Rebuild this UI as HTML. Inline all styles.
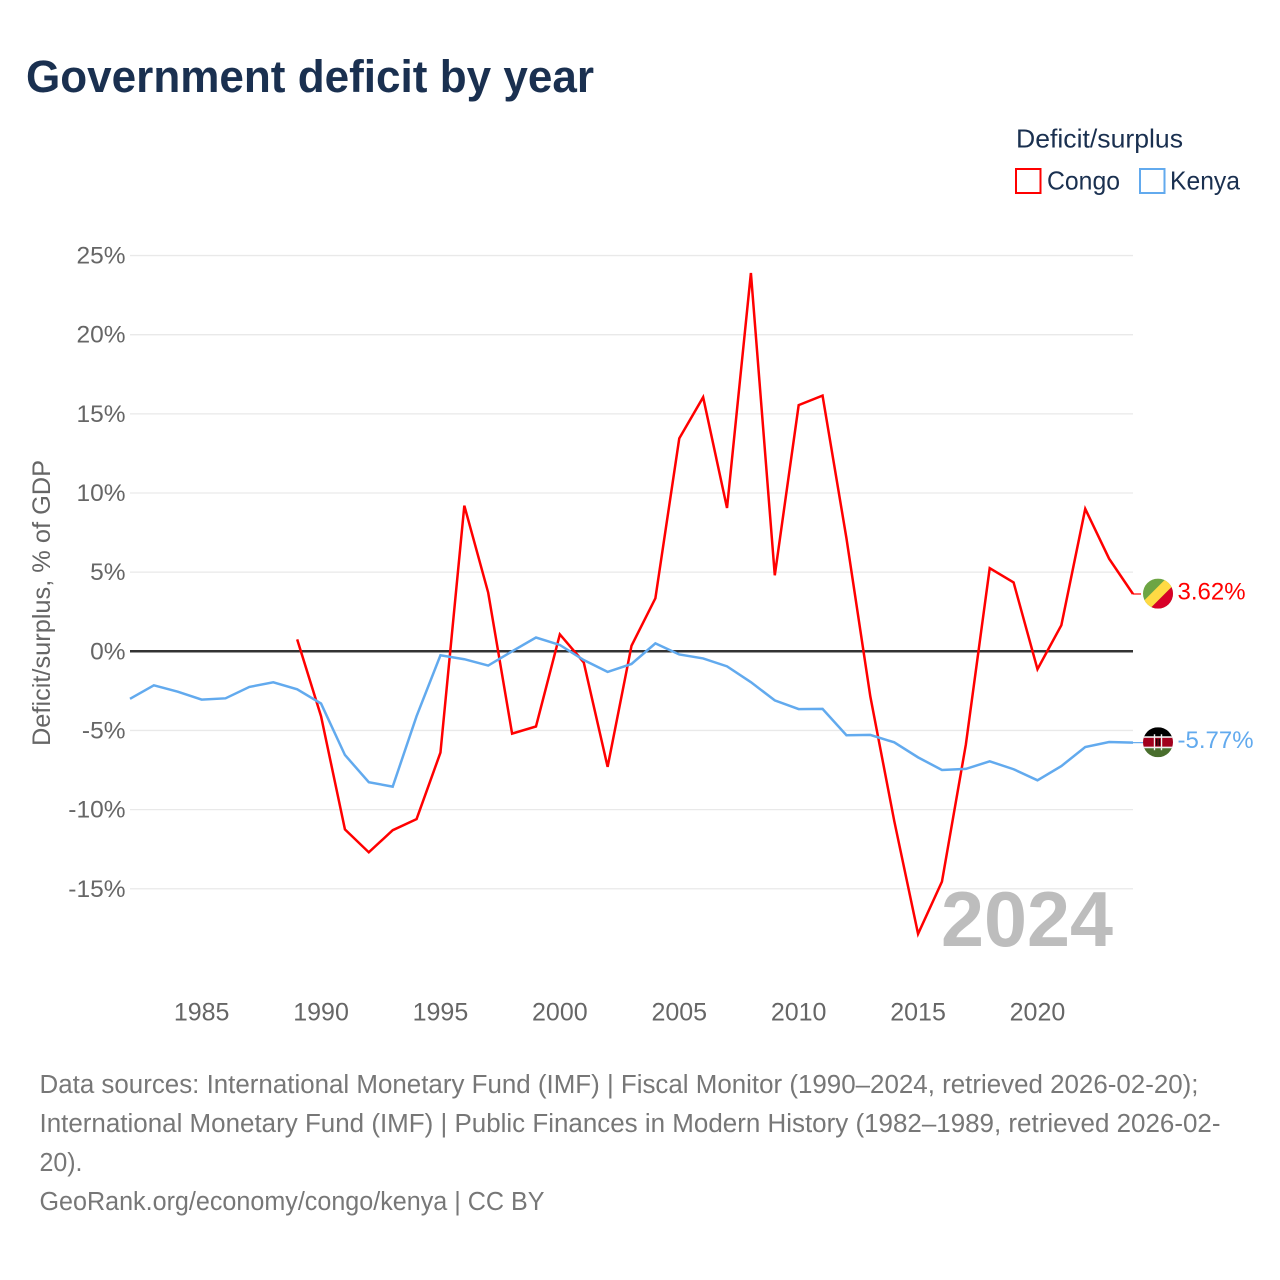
<!DOCTYPE html>
<html lang="en">
<head>
<meta charset="utf-8">
<title>Government deficit by year</title>
<style>
html,body{margin:0;padding:0;background:#fff;}
svg{display:block;font-family:"Liberation Sans",sans-serif;}
</style>
</head>
<body>
<svg id="chart" width="1280" height="1280" viewBox="0 0 1280 1280" xmlns="http://www.w3.org/2000/svg">
  <defs>
    <clipPath id="flag-clip"><circle cx="0" cy="0" r="15"></circle></clipPath>
  </defs>
  <rect width="1280" height="1280" fill="#ffffff"></rect>
  <text x="26" y="92" font-size="45" font-weight="700" fill="#1a3050" textLength="568" lengthAdjust="spacingAndGlyphs">Government deficit by year</text>

  <g>
    <text x="1016" y="147.5" font-size="26" fill="#1a3050" textLength="167" lengthAdjust="spacingAndGlyphs">Deficit/surplus</text>
    <g>
      <rect x="1016" y="169" width="24.5" height="24" fill="none" stroke="#ff0000" stroke-width="2"></rect>
      <text x="1047" y="189.5" font-size="26" fill="#1a3050" textLength="73" lengthAdjust="spacingAndGlyphs">Congo</text>
    </g>
    <g>
      <rect x="1140" y="169" width="24.5" height="24" fill="none" stroke="#62aaee" stroke-width="2"></rect>
      <text x="1170" y="189.5" font-size="26" fill="#1a3050" textLength="70" lengthAdjust="spacingAndGlyphs">Kenya</text>
    </g>
  </g>

  <text transform="translate(50,603) rotate(-90)" text-anchor="middle" font-size="25" fill="#666666" textLength="286" lengthAdjust="spacingAndGlyphs">Deficit/surplus, % of GDP</text>

  <g id="grid"></g>
  <g id="y-labels"></g>
  <g id="x-labels"></g>

  <text x="941" y="946" font-size="78" font-weight="700" fill="#bdbdbd" textLength="172" lengthAdjust="spacingAndGlyphs">2024</text>

  <g id="series"></g>

  <g id="flag-congo">
    <g clip-path="url(#flag-clip)">
      <rect x="-15" y="-15" width="30" height="30" fill="#6da544"></rect>
      <polygon points="15,-15 15,-8 -8,15 -15,15 -15,8 8,-15" fill="#ffda44"></polygon>
      <polygon points="15,-8 15,15 -8,15" fill="#d80027"></polygon>
    </g>
  </g>
  <g id="flag-kenya">
    <g clip-path="url(#flag-clip)">
      <rect x="-15" y="-15" width="30" height="10" fill="#000000"></rect>
      <rect x="-15" y="-5" width="30" height="10" fill="#a2001d"></rect>
      <rect x="-15" y="5" width="30" height="10" fill="#496e2d"></rect>
      <rect x="-15" y="-6" width="30" height="1.6" fill="#f0f0f0"></rect>
      <rect x="-15" y="4.4" width="30" height="1.6" fill="#f0f0f0"></rect>
      <rect x="-4.2" y="-8" width="1.4" height="16" fill="#f0f0f0"></rect>
      <rect x="2.8" y="-8" width="1.4" height="16" fill="#f0f0f0"></rect>
      <rect x="-2.8" y="-4" width="5.6" height="8" fill="#a2001d"></rect>
      <rect x="-1.8" y="-3.5" width="1.2" height="7" fill="#000000"></rect>
      <rect x="0.6" y="-3.5" width="1.2" height="7" fill="#000000"></rect>
    </g>
  </g>

  <g id="end-labels"></g>

  <g font-size="25.5" fill="#777777">
    <text x="39.5" y="1093" textLength="1159" lengthAdjust="spacingAndGlyphs">Data sources: International Monetary Fund (IMF) | Fiscal Monitor (1990–2024, retrieved 2026-02-20);</text>
    <text x="39.5" y="1132" textLength="1181" lengthAdjust="spacingAndGlyphs">International Monetary Fund (IMF) | Public Finances in Modern History (1982–1989, retrieved 2026-02-</text>
    <text x="39.5" y="1171" textLength="43" lengthAdjust="spacingAndGlyphs">20).</text>
    <text x="39.5" y="1210" textLength="505" lengthAdjust="spacingAndGlyphs">GeoRank.org/economy/congo/kenya | CC BY</text>
  </g>
</svg>
<script>
const firstYear = 1982;
const lastYear = 2024;
const yTickValues = [-15, -10, -5, 0, 5, 10, 15, 20, 25];
const xTickValues = [1985, 1990, 1995, 2000, 2005, 2010, 2015, 2020];
const congoStartYear = 1989;
const congoValues = [0.75, -4.1, -11.25, -12.7, -11.3, -10.6, -6.4, 9.2, 3.7, -5.2, -4.75, 1.07, -0.7, -7.3, 0.35, 3.35, 13.45, 16.05, 9.05, 23.9, 4.8, 15.55, 16.15, 7.15, -2.85, -10.7, -17.85, -14.55, -5.9, 5.25, 4.35, -1.13, 1.65, 9.0, 5.85, 3.62];
const kenyaStartYear = 1982;
const kenyaValues = [-3.0, -2.15, -2.55, -3.05, -2.97, -2.25, -1.96, -2.4, -3.3, -6.55, -8.27, -8.55, -4.1, -0.25, -0.5, -0.9, 0.0, 0.87, 0.4, -0.55, -1.3, -0.8, 0.5, -0.2, -0.45, -0.95, -1.95, -3.1, -3.65, -3.64, -5.3, -5.28, -5.75, -6.7, -7.5, -7.43, -6.95, -7.45, -8.15, -7.25, -6.05, -5.73, -5.77];

const SVG_NS = 'http://www.w3.org/2000/svg';
const plotLeft = 130;
const plotRight = 1133;
const zeroY = 651.3;
const pxPerUnit = 15.83;
const xScale = function (year) {
  return plotLeft + (year - firstYear) * (plotRight - plotLeft) / (lastYear - firstYear);
};
const yScale = function (value) {
  return zeroY - value * pxPerUnit;
};
const make = function (tag, parentId) {
  const el = document.createElementNS(SVG_NS, tag);
  document.getElementById(parentId).appendChild(el);
  return el;
};

yTickValues.forEach(function (v) {
  const line = make('line', 'grid');
  
  
  line.setAttribute('x1', plotLeft);
  line.setAttribute('x2', plotRight);
  line.setAttribute('y1', yScale(v));
  line.setAttribute('y2', yScale(v));
  line.setAttribute('stroke', v === 0 ? '#333333' : '#e9e9e9');
  line.setAttribute('stroke-width', v === 0 ? 2.5 : 1.3);

  const label = make('text', 'y-labels');
  
  
  label.setAttribute('x', 125.5);
  label.setAttribute('y', yScale(v) + 8);
  label.setAttribute('text-anchor', 'end');
  label.setAttribute('font-size', '24.5');
  label.setAttribute('fill', '#666666');
  label.textContent = v + '%';
});

xTickValues.forEach(function (year) {
  const label = make('text', 'x-labels');
  
  
  label.setAttribute('x', xScale(year));
  label.setAttribute('y', 1020.5);
  label.setAttribute('text-anchor', 'middle');
  label.setAttribute('font-size', '25');
  label.setAttribute('fill', '#666666');
  label.textContent = String(year);
});

const drawSeries = function (values, startYear, color, seriesName, flagId, connectorEnd) {
  const pts = values.map(function (v, i) {
    return xScale(startYear + i).toFixed(2) + ',' + yScale(v).toFixed(2);
  });
  const last = values[values.length - 1];
  const lastY = yScale(last);

  const line = make('polyline', 'series');
  
  
  line.setAttribute('points', pts.join(' '));
  line.setAttribute('fill', 'none');
  line.setAttribute('stroke', color);
  line.setAttribute('stroke-width', 2.5);
  line.setAttribute('stroke-linejoin', 'miter');

  const connector = make('line', 'series');
  
  
  connector.setAttribute('x1', plotRight);
  connector.setAttribute('x2', connectorEnd);
  connector.setAttribute('y1', lastY);
  connector.setAttribute('y2', lastY);
  connector.setAttribute('stroke', color);
  connector.setAttribute('stroke-width', 1.2);

  document.getElementById(flagId).setAttribute('transform', 'translate(1158,' + (lastY - 0.4).toFixed(2) + ')');

  const label = make('text', 'end-labels');
  
  
  label.setAttribute('x', 1177.5);
  label.setAttribute('y', lastY + 5.5);
  label.setAttribute('font-size', '24');
  label.setAttribute('fill', color);
  label.textContent = last.toFixed(2) + '%';
};

drawSeries(congoValues, congoStartYear, '#ff0000', 'congo', 'flag-congo', 1141);
drawSeries(kenyaValues, kenyaStartYear, '#62aaee', 'kenya', 'flag-kenya', 1143);
</script>
</body>
</html>
